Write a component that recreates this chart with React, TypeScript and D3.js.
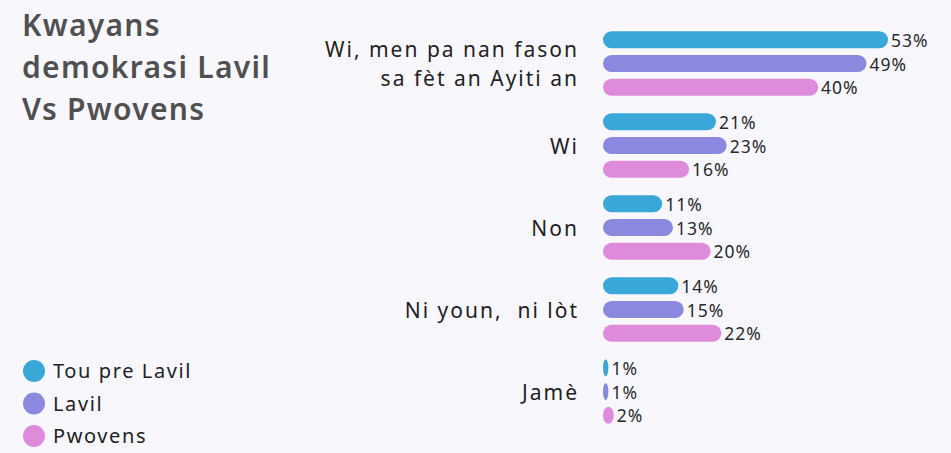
import React, { useEffect, useRef } from 'react';
import * as d3 from 'd3';

// categories (answers) and series
const categories = [
  'Wi, men pa nan fason\nsa fèt an Ayiti an',
  'Wi',
  'Non',
  'Ni youn,  ni lòt',
  'Jamè',
];
const seriesNames = ['Tou pre Lavil', 'Lavil', 'Pwovens'];
const seriesColors = ['#3aa7d9', '#8b88e0', '#df8bdc'];

// values in percent, one array per series
const touPreLavil = [53, 21, 11, 14, 1];
const lavil = [49, 23, 13, 15, 1];
const pwovens = [40, 16, 20, 22, 2];

const titleLines = ['Kwayans', 'demokrasi Lavil', 'Vs Pwovens'];

const W = 951;
const H = 453;

export default function App() {
  const ref = useRef<SVGSVGElement>(null);

  useEffect(() => {
    const svg = d3.select(ref.current);
    svg.selectAll('*').remove();

    svg.append('rect').attr('width', W).attr('height', H).attr('fill', '#f8f8fc');

    const font = '"Noto Sans", sans-serif';

    // title
    svg.append('g')
      .selectAll('text')
      .data(titleLines)
      .enter()
      .append('text')
      .attr('x', 22)
      .attr('y', (d, i) => 36 + i * 42)
      .attr('font-family', font)
      .attr('font-weight', 600)
      .attr('font-size', 30)
      .attr('letter-spacing', 1.3)
      .attr('fill', '#505050')
      .text(d => d);

    //scales
    const x = d3.scaleLinear().domain([0, 53]).range([603, 888]);

    const y = d3.scaleBand<number>()
      .domain(d3.range(categories.length))
      .range([22.5, 432.5])
      .paddingInner(0.13)
      .paddingOuter(0.065);

    const ySub = d3.scaleBand<number>()
      .domain(d3.range(seriesNames.length))
      .range([0, y.bandwidth()])
      .paddingInner(0.28)
      .paddingOuter(0.14);

    const data = [touPreLavil, lavil, pwovens];

    const groups = svg.append('g')
      .selectAll('g')
      .data(categories)
      .enter()
      .append('g')
      .attr('transform', (d, i) => `translate(0, ${y(i)})`);

    // category labels
    groups.each(function (d, i) {
      const lines = d.split('\n');
      const cy = y.bandwidth() / 2;
      const lh = 29;
      d3.select(this)
        .selectAll('text.cat')
        .data(lines)
        .enter()
        .append('text')
        .attr('class', 'cat')
        .attr('x', 579)
        .attr('y', (l, j) => cy + (j - (lines.length - 1) / 2) * lh + 1)
        .attr('dy', '0.35em')
        .attr('text-anchor', 'end')
        .attr('font-family', font)
        .attr('font-size', 21)
        .attr('letter-spacing', 2)
        .attr('fill', '#222')
        .style('white-space', 'pre')
        .text(l => l);
    });

    // bars
    groups.each(function (d, i) {
      const g = d3.select(this);
      const bh = ySub.bandwidth();
      seriesNames.forEach((s, k) => {
        const v = data[k][i];
        const w = Math.max(x(v) - x(0), 4);
        g.append('rect')
          .attr('x', x(0))
          .attr('y', ySub(k)!)
          .attr('width', w)
          .attr('height', bh)
          .attr('rx', Math.min(bh / 2, w / 2))
          .attr('ry', bh / 2)
          .attr('fill', seriesColors[k]);
        g.append('text')
          .attr('x', x(0) + w + 3)
          .attr('y', ySub(k)! + bh / 2 + 1)
          .attr('dy', '0.35em')
          .attr('font-family', font)
          .attr('font-size', 17.5)
          .attr('letter-spacing', 1)
          .attr('fill', '#2a2a2a')
          .text(v + '%');
      });
    });

    // legend
    const legend = svg.append('g')
      .selectAll('g')
      .data(seriesNames)
      .enter()
      .append('g')
      .attr('transform', (d, i) => `translate(34, ${371 + i * 32.5})`);
    legend.append('circle')
      .attr('r', 11)
      .attr('fill', (d, i) => seriesColors[i]);
    legend.append('text')
      .attr('x', 19)
      .attr('dy', '0.35em')
      .attr('font-family', font)
      .attr('font-size', 20)
      .attr('letter-spacing', 1.6)
      .attr('fill', '#222')
      .text(d => d);
  }, []);

  return <svg ref={ref} width={W} height={H} style={{ display: 'block', position: 'absolute', left: 0, top: 0 }} />;
}
